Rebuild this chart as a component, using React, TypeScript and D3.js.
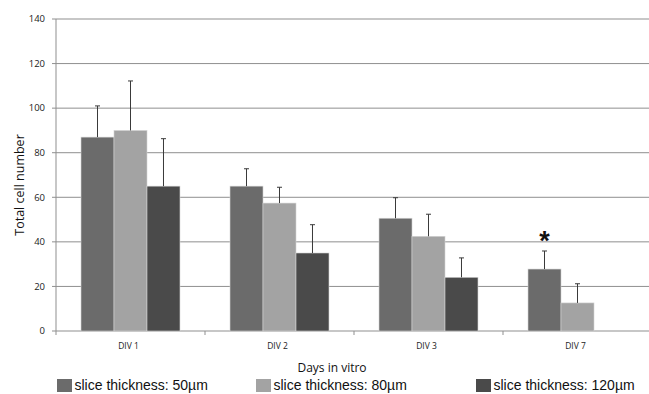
import React from 'react';
import * as d3 from 'd3';

const categories = ['DIV 1', 'DIV 2', 'DIV 3', 'DIV 7'];
const seriesNames = ['slice thickness: 50µm', 'slice thickness: 80µm', 'slice thickness: 120µm'];
const seriesColors = ['#6b6b6b', '#a3a3a3', '#4a4a4a'];
// means per series (null = no bar)
const thick50 = [87, 65, 50.6, 27.8];
const thick80 = [90, 57.4, 42.5, 12.6];
const thick120: (number | null)[] = [65, 35, 24.1, null];
// upper end of error bars
const err50 = [101, 72.8, 59.8, 35.9];
const err80 = [112.2, 64.5, 52.4, 21.2];
const err120: (number | null)[] = [86.3, 47.7, 32.8, null];
const yTicks = [0, 20, 40, 60, 80, 100, 120, 140];

const W = 649, H = 394;
const left = 56, top = 19, bottom = 331, band = 149;

export default function App() {
  const values = [thick50, thick80, thick120];
  const errs = [err50, err80, err120];

  const x0 = d3.scaleBand<string>().domain(categories)
    .range([left, left + band * categories.length]).padding(0);
  const x1 = d3.scaleBand<string>().domain(seriesNames)
    .range([0, x0.bandwidth()]).paddingInner(0).paddingOuter(0.758);
  const y = d3.scaleLinear().domain([0, 140]).range([bottom, top]);

  const tickFont = 'Open Sans, Noto Sans, sans-serif';

  return (
    <svg width={W} height={H} style={{position: 'absolute', left: 0, top: 0, background: '#fff'}}>
      {/* gridlines */}
      {yTicks.map(t => (
        <g key={t}>
          {t > 0 && <line x1={left} x2={W + 10} y1={y(t)} y2={y(t)} stroke="#8f8f8f" strokeWidth={1} />}
          <line x1={left - 4} x2={left} y1={y(t)} y2={y(t)} stroke="#8f8f8f" strokeWidth={1} />
          <text x={left - 11} y={y(t)} dy="0.35em" textAnchor="end"
            fontFamily={tickFont} fontSize={9.5} fill="#222">{t}</text>
        </g>
      ))}
      {/* axes */}
      <line x1={left} x2={left} y1={top} y2={bottom} stroke="#8f8f8f" />
      <line x1={left} x2={W + 10} y1={bottom} y2={bottom} stroke="#8f8f8f" />
      {categories.map(c => (
        <g key={c}>
          <line x1={x0(c)!} x2={x0(c)!} y1={bottom} y2={bottom + 4} stroke="#8f8f8f" />
          <text x={x0(c)! + x0.bandwidth() / 2 - 2} y={bottom + 18} textAnchor="middle"
            fontFamily={tickFont} fontSize={8.5} fill="#222">{c}</text>
        </g>
      ))}
      {/* bars */}
      {categories.map((c, ci) => (
        <g key={c} transform={`translate(${x0(c)},0)`}>
          {seriesNames.map((s, si) => {
            const v = values[si][ci];
            if (v == null) return null;
            const e = errs[si][ci]!;
            const bx = x1(s)!;
            const cx = bx + x1.bandwidth() / 2;
            return (
              <g key={s}>
                <rect x={bx} y={y(v)} width={x1.bandwidth()} height={bottom - y(v)}
                  fill={seriesColors[si]} stroke="#d4d4d4" strokeWidth={0.6} />
                <line x1={cx} x2={cx} y1={y(v)} y2={y(e)} stroke="#3a3a3a" strokeWidth={1} />
                <line x1={cx - 2.5} x2={cx + 2.5} y1={y(e)} y2={y(e)} stroke="#3a3a3a" strokeWidth={1} />
              </g>
            );
          })}
        </g>
      ))}
      {/* significance marker */}
      <text x={x0('DIV 7')! + x1(seriesNames[0])! + x1.bandwidth() / 2} y={y(40) + 8}
        textAnchor="middle" fontFamily="Liberation Sans, Arial, sans-serif" fontWeight="bold"
        fontSize={27} fill="#111">*</text>
      {/* axis titles */}
      <text transform={`translate(24,${(top + bottom) / 2 + 10}) rotate(-90)`} textAnchor="middle"
        fontFamily={tickFont} fontSize={12.5} fill="#111">Total cell number</text>
      <text x={332} y={372} textAnchor="middle" fontFamily={tickFont} fontSize={12}
        fill="#111">Days in vitro</text>
      {/* legend */}
      {seriesNames.map((s, i) => {
        const lx = [57, 256, 476][i];
        return (
          <g key={s}>
            <rect x={lx} y={379} width={15} height={13} fill={seriesColors[i]} />
            <text x={lx + 17.5} y={390} fontFamily="Liberation Sans, Arial, sans-serif"
              fontSize={14} fill="#111">{s}</text>
          </g>
        );
      })}
    </svg>
  );
}
